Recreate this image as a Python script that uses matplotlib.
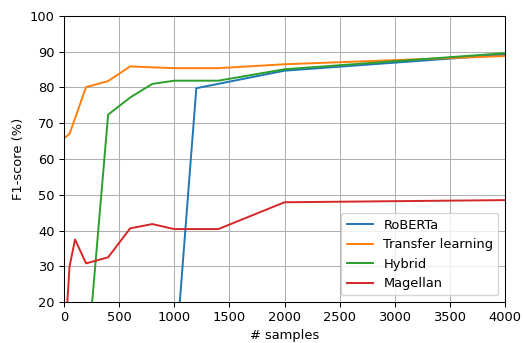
import matplotlib
matplotlib.use("Agg")
import matplotlib.pyplot as plt

# values
roberta_x = [1000, 1200, 2000, 4000]
roberta_y = [0.0, 79.8, 84.7, 89.2]

transfer_x = [0, 50, 200, 400, 600, 1000, 1400, 2000, 4000]
transfer_y = [65.8, 67.0, 80.1, 81.8, 85.9, 85.4, 85.4, 86.5, 88.8]

hybrid_x = [200, 400, 600, 800, 1000, 1400, 2000, 4000]
hybrid_y = [0.0, 72.4, 77.2, 81.0, 81.9, 81.9, 85.1, 89.6]

magellan_x = [0, 50, 100, 200, 400, 600, 800, 1000, 1400, 2000, 4000]
magellan_y = [5.0, 29.9, 37.5, 30.8, 32.5, 40.6, 41.8, 40.4, 40.4, 47.9, 48.5]

DPI = 94
fig, ax = plt.subplots(figsize=(523 / DPI, 343 / DPI), dpi=DPI)

ax.plot(roberta_x, roberta_y, label="RoBERTa")
ax.plot(transfer_x, transfer_y, label="Transfer learning")
ax.plot(hybrid_x, hybrid_y, label="Hybrid")
ax.plot(magellan_x, magellan_y, label="Magellan")

ax.set_xlim(0, 4000)
ax.set_ylim(20, 100)
ax.set_xlabel("# samples")
ax.set_ylabel("F1-score (%)")
ax.grid(True)
ax.legend(loc="lower right")

fig.subplots_adjust(left=0.1224, right=0.9656, top=0.9534, bottom=0.1195)
fig.savefig("out.png", dpi=DPI)
